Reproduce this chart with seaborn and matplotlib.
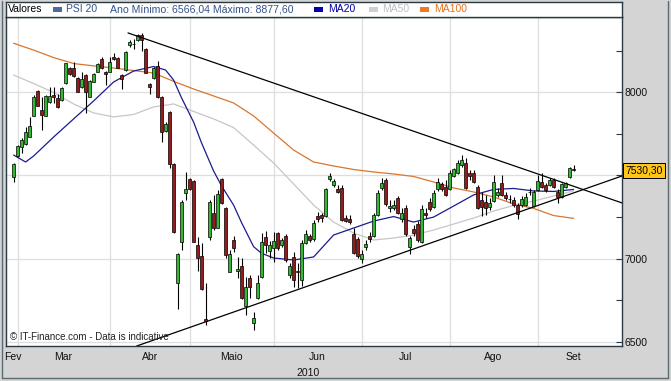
import numpy as np
import pandas as pd
import matplotlib
matplotlib.use("Agg")
import matplotlib.pyplot as plt
from matplotlib.patches import Rectangle
from matplotlib.lines import Line2D
import seaborn as sns

# ---------------- data ----------------
opens = [7493, 7619, 7673, 7689, 7733, 7859, 8006, 7894, 7859, 7940,
         7982, 7964, 7954, 8054, 8148, 8148, 8088, 8030, 8104, 7974,
         8064, 8124, 8198, 8122, 8124, 8210, 8204, 8104, 8134, 8284,
         8290, 8314, 8345, 8260, 8050, 8086, 8158, 7972, 7769, 7882,
         7569, 6855, 7098, 7395, 7481, 7467, 7082, 7016, 6637, 7128,
         7277, 7187, 7479, 7305, 6922, 7112, 6926, 6953, 6715, 6884,
         6615, 6763, 6888, 7130, 7046, 7062, 7154, 7082, 7136, 6902,
         7012, 6917, 6872, 7096, 7136, 7116, 7256, 7261, 7256, 7477,
         7441, 7417, 7427, 7243, 7237, 7146, 7116, 6996, 7072, 7138,
         7136, 7262, 7423, 7473, 7303, 7303, 7363, 7237, 7306, 7072,
         7176, 7208, 7102, 7276, 7342, 7312, 7417, 7447, 7433, 7417,
         7497, 7513, 7563, 7573, 7517, 7513, 7433, 7353, 7342, 7310,
         7347, 7383, 7453, 7383, 7358, 7353, 7323, 7323, 7323, 7399,
         7318, 7413, 7463, 7443, 7443, 7473, 7402, 7372, 7429, 7489,
         7536]
closes = [7567, 7679, 7713, 7760, 7799, 7970, 7920, 7864, 7980, 7978,
          7974, 7914, 8024, 8174, 8108, 8098, 8004, 8080, 8004, 8070,
          8110, 8168, 8144, 8108, 8184, 8198, 8148, 8078, 8244, 8301,
          8292, 8345, 8314, 8118, 8032, 8146, 7972, 7761, 7812, 7569,
          7160, 7028, 7342, 7419, 7419, 7102, 7004, 6818, 6625, 7342,
          7182, 7389, 7335, 7019, 7028, 7066, 6938, 6762, 6831, 6830,
          6643, 6854, 7102, 7082, 7082, 7108, 7066, 7112, 6992, 6956,
          6872, 6926, 7096, 7148, 7112, 7214, 7240, 7244, 7417, 7497,
          7469, 7402, 7232, 7228, 7222, 7032, 7016, 7026, 7086, 7116,
          7262, 7393, 7457, 7329, 7316, 7321, 7273, 7273, 7148, 7122,
          7152, 7112, 7297, 7262, 7298, 7393, 7463, 7417, 7383, 7517,
          7537, 7573, 7593, 7423, 7497, 7463, 7303, 7312, 7303, 7334,
          7463, 7402, 7383, 7363, 7356, 7323, 7268, 7359, 7372, 7401,
          7402, 7469, 7433, 7413, 7473, 7433, 7372, 7447, 7453, 7543,
          7530.3]
highs = [7575, 7683, 7725, 7791, 7850, 7984, 8014, 7974, 7984, 8030,
         8030, 7990, 8032, 8176, 8152, 8184, 8092, 8124, 8110, 8074,
         8116, 8176, 8214, 8128, 8214, 8235, 8212, 8110, 8248, 8314,
         8320, 8351, 8355, 8266, 8056, 8152, 8190, 7978, 7822, 7888,
         7575, 7034, 7353, 7521, 7485, 7473, 7130, 7094, 6854, 7353,
         7383, 7413, 7485, 7310, 7052, 7136, 7012, 7004, 6890, 6902,
         6681, 6902, 7154, 7166, 7106, 7160, 7162, 7125, 7148, 6974,
         7040, 6974, 7112, 7172, 7150, 7232, 7280, 7274, 7425, 7513,
         7479, 7443, 7443, 7262, 7262, 7184, 7130, 7052, 7112, 7160,
         7274, 7413, 7485, 7485, 7353, 7353, 7377, 7304, 7322, 7136,
         7202, 7226, 7322, 7304, 7365, 7413, 7485, 7461, 7473, 7533,
         7545, 7593, 7623, 7605, 7533, 7533, 7443, 7401, 7383, 7365,
         7503, 7425, 7503, 7401, 7383, 7371, 7335, 7377, 7395, 7425,
         7413, 7503, 7515, 7455, 7485, 7485, 7419, 7455, 7461, 7551,
         7563]
lows = [7463, 7611, 7637, 7683, 7731, 7857, 7918, 7773, 7857, 7936,
        7936, 7906, 7948, 8050, 8104, 8092, 8002, 8026, 7877, 7972,
        8062, 8122, 8140, 8044, 8122, 8194, 8146, 8018, 8131, 8274,
        8260, 8308, 8250, 8116, 7990, 8080, 7966, 7703, 7761, 7545,
        7154, 6697, 7052, 7353, 7413, 7100, 6928, 6812, 6601, 7112,
        7172, 7184, 7329, 7004, 6920, 7040, 6884, 6757, 6661, 6763,
        6571, 6757, 6884, 7034, 7004, 6980, 7052, 7070, 6980, 6884,
        6831, 6824, 6836, 7088, 7100, 7106, 7220, 7220, 7250, 7467,
        7431, 7395, 7226, 7220, 7208, 7028, 7004, 6974, 7052, 7100,
        7130, 7256, 7413, 7317, 7280, 7292, 7268, 7220, 7136, 7028,
        7136, 7100, 7094, 7244, 7286, 7304, 7407, 7407, 7377, 7413,
        7491, 7509, 7551, 7419, 7473, 7455, 7298, 7256, 7262, 7292,
        7341, 7371, 7377, 7353, 7335, 7310, 7238, 7310, 7317, 7383,
        7310, 7407, 7425, 7401, 7437, 7425, 7336, 7365, 7425, 7485,
        7526]

ma20_idx = [0, 3, 5, 10, 15, 20, 25, 30, 35, 38, 40, 42, 45, 47, 50, 52, 55, 57,
            60, 62, 65, 70, 75, 80, 85, 90, 95, 100, 105, 110, 115, 120, 125,
            130, 135, 140]
ma20 = [7623, 7581, 7617, 7731, 7840, 7948, 8062, 8128, 8155, 8134, 8074, 7966,
        7821, 7695, 7527, 7437, 7322, 7216, 7072, 7032, 7004, 6992, 7010, 7142,
        7184, 7226, 7253, 7220, 7250, 7316, 7383, 7416, 7422, 7407, 7404, 7416]
ma_idx = [0, 5, 10, 15, 20, 25, 30, 35, 40, 45, 50, 55, 60, 65, 70, 75, 80, 85,
          90, 95, 100, 105, 110, 115, 120, 125, 130, 135, 140]
ma50 = [8104, 8053, 7999, 7930, 7876, 7852, 7867, 7912, 7930, 7885, 7840, 7788,
        7683, 7575, 7449, 7322, 7220, 7154, 7112, 7124, 7142, 7172, 7208, 7244,
        7286, 7320, 7346, 7377, 7407]
ma100 = [8295, 8254, 8209, 8173, 8159, 8146, 8131, 8116, 8066, 8020, 7978, 7936,
         7858, 7755, 7653, 7581, 7557, 7536, 7521, 7509, 7494, 7461, 7425, 7401,
         7371, 7329, 7302, 7259, 7242]

# hand-drawn trend lines: (candle index, value) end points
trend_down_x = [28.6, 152.1]
trend_down_y = [8357, 7335]
trend_up_x = [30.8, 152.1]
trend_up_y = [6475, 7497]

month_names = ["Fev", "Mar", "Abr", "Maio", "Jun", "Jul", "Ago", "Set"]
month_starts = [1, 24, 44, 65, 87, 109, 131]
month_label_pos = [-0.3, 12.5, 34, 54.5, 76, 98, 120, 140]
y_major = [6500, 7000, 7500, 8000]
y_major_labels = ["6500", "7000", "", "8000"]   # 7500 is hidden behind the price tag
y_minor = [6750, 7250, 7750, 8250]
last_label = "7530,30"
year_label = "2010"

# ---------------- styling ----------------
sns.set_style("white")
plt.rcParams['font.family'] = ['Liberation Sans', 'DejaVu Sans']

W, H = 671, 381
BG = '#d4d4d4'
GREEN = '#33b833'
RED = '#951c1c'
FRAME = '#2b3a42'

fig = plt.figure(figsize=(W / 100, H / 100), dpi=100, facecolor=BG)
def fx(x): return x / W
def fy(y): return 1 - y / H

L, R, T, B = 6, 622, 17, 346
ax = fig.add_axes([fx(L), fy(B), (R - L) / W, (B - T) / H])
ax.set_facecolor('white')

idx = np.arange(len(closes))
o = np.array(opens, float)
c = np.array(closes, float)
up = c >= o

ax.vlines(idx, lows, highs, color='black', lw=0.8, zorder=3)
ax.bar(idx[up], np.maximum(c - o, 2)[up], bottom=o[up], width=0.74,
       color=GREEN, edgecolor='black', linewidth=0.5, zorder=4)
ax.bar(idx[~up], np.maximum(o - c, 2)[~up], bottom=c[~up], width=0.74,
       color=RED, edgecolor='black', linewidth=0.5, zorder=4)

df20 = pd.DataFrame({'i': ma20_idx, 'v': ma20})
df50 = pd.DataFrame({'i': ma_idx, 'v': ma50})
df100 = pd.DataFrame({'i': ma_idx, 'v': ma100})
sns.lineplot(data=df100, x='i', y='v', ax=ax, color='#d9762e', lw=0.9, zorder=2)
sns.lineplot(data=df50, x='i', y='v', ax=ax, color='#c6c6c6', lw=0.9, zorder=2)
sns.lineplot(data=df20, x='i', y='v', ax=ax, color='#1b1b8f', lw=0.9, zorder=2)
sns.lineplot(x=trend_down_x, y=trend_down_y, ax=ax, color='black', lw=0.9, zorder=5)
sns.lineplot(x=trend_up_x, y=trend_up_y, ax=ax, color='black', lw=0.9, zorder=5)

ax.set_xlim(-1.9, 152.1)
ax.set_ylim(6474.8, 8452.8)
ax.set_xlabel('')
ax.set_ylabel('')

ax.set_xticks(month_starts)
ax.set_xticklabels([])
ax.set_xticks(month_label_pos, minor=True)
ax.set_xticklabels(month_names, minor=True)
ax.tick_params(axis='x', which='major', direction='out', length=4, width=0.8, color=FRAME)
ax.tick_params(axis='x', which='minor', length=0, pad=4.5, labelsize=7.5, labelcolor='#111111')

ax.yaxis.tick_right()
ax.set_yticks(y_major)
ax.set_yticklabels(y_major_labels)
ax.set_yticks(y_minor, minor=True)
ax.tick_params(axis='y', which='both', direction='in', length=4, width=0.8,
               color=FRAME, pad=2, labelsize=7.5, labelcolor='#111111')

ax.grid(True, which='major', color='#dedede', lw=0.9, zorder=0)
ax.set_axisbelow(True)
for s in ax.spines.values():
    s.set_visible(True)
    s.set_color(FRAME)
    s.set_linewidth(1.0)

ax.annotate(last_label, xy=(1.0, closes[-1]), xycoords=('axes fraction', 'data'),
            xytext=(2.5, 0), textcoords='offset points', ha='left', va='center',
            fontsize=7.5, color='black', annotation_clip=False, zorder=10,
            bbox=dict(boxstyle='square,pad=0.25', fc='#ffc61a', ec='black', lw=0.7))

ax.text(0.006, 0.012, "\u00a9 IT-Finance.com - Data is indicative", transform=ax.transAxes,
        fontsize=7, color='#222222', ha='left', va='bottom', zorder=6)

# legend strip
lax = fig.add_axes([fx(L), fy(T), (R - L) / W, (T - 2) / H])
lax.set_facecolor('white')
lax.set_xticks([]); lax.set_yticks([])
for s in lax.spines.values():
    s.set_color(FRAME); s.set_linewidth(1.0)

ty = fy(9.5)
fig.text(fx(8), ty, "Valores", fontsize=7.5, color='black', va='center', ha='left')
items = [(52.5, '#4a6c9b', "PSI 20", '#34538a'),
         (314, '#0000b0', "MA20", '#0000a0'),
         (368.5, '#cfcfcf', "MA50", '#c0c0c0'),
         (420, '#ef7a22', "MA100", '#e8701a')]
for x0, mc, lab, tc in items:
    fig.patches.append(Rectangle((fx(x0), fy(11.5)), 9 / W, 4.5 / H, transform=fig.transFigure,
                                 facecolor=mc, edgecolor='none'))
    fig.text(fx(x0 + 14), ty, lab, fontsize=7.5, color=tc, va='center', ha='left')
fig.text(fx(110.5), ty, "Ano M\u00ednimo: 6566,04 M\u00e1ximo: 8877,60", fontsize=7.6,
         color='#34538a', va='center', ha='left')

fig.text(fx(308.5), fy(373), year_label, fontsize=7.5, color='#111111', ha='center', va='center')

# outer frame decoration
for (x1, y1, x2, y2) in [(2, 1, 2, 378), (668, 1, 668, 378), (2, 378, 668, 378)]:
    fig.lines.append(Line2D([fx(x1), fx(x2)], [fy(y1), fy(y2)], transform=fig.transFigure,
                            color='#5a6a72', lw=1.0))

fig.savefig("out.png", dpi=100, facecolor=BG)
